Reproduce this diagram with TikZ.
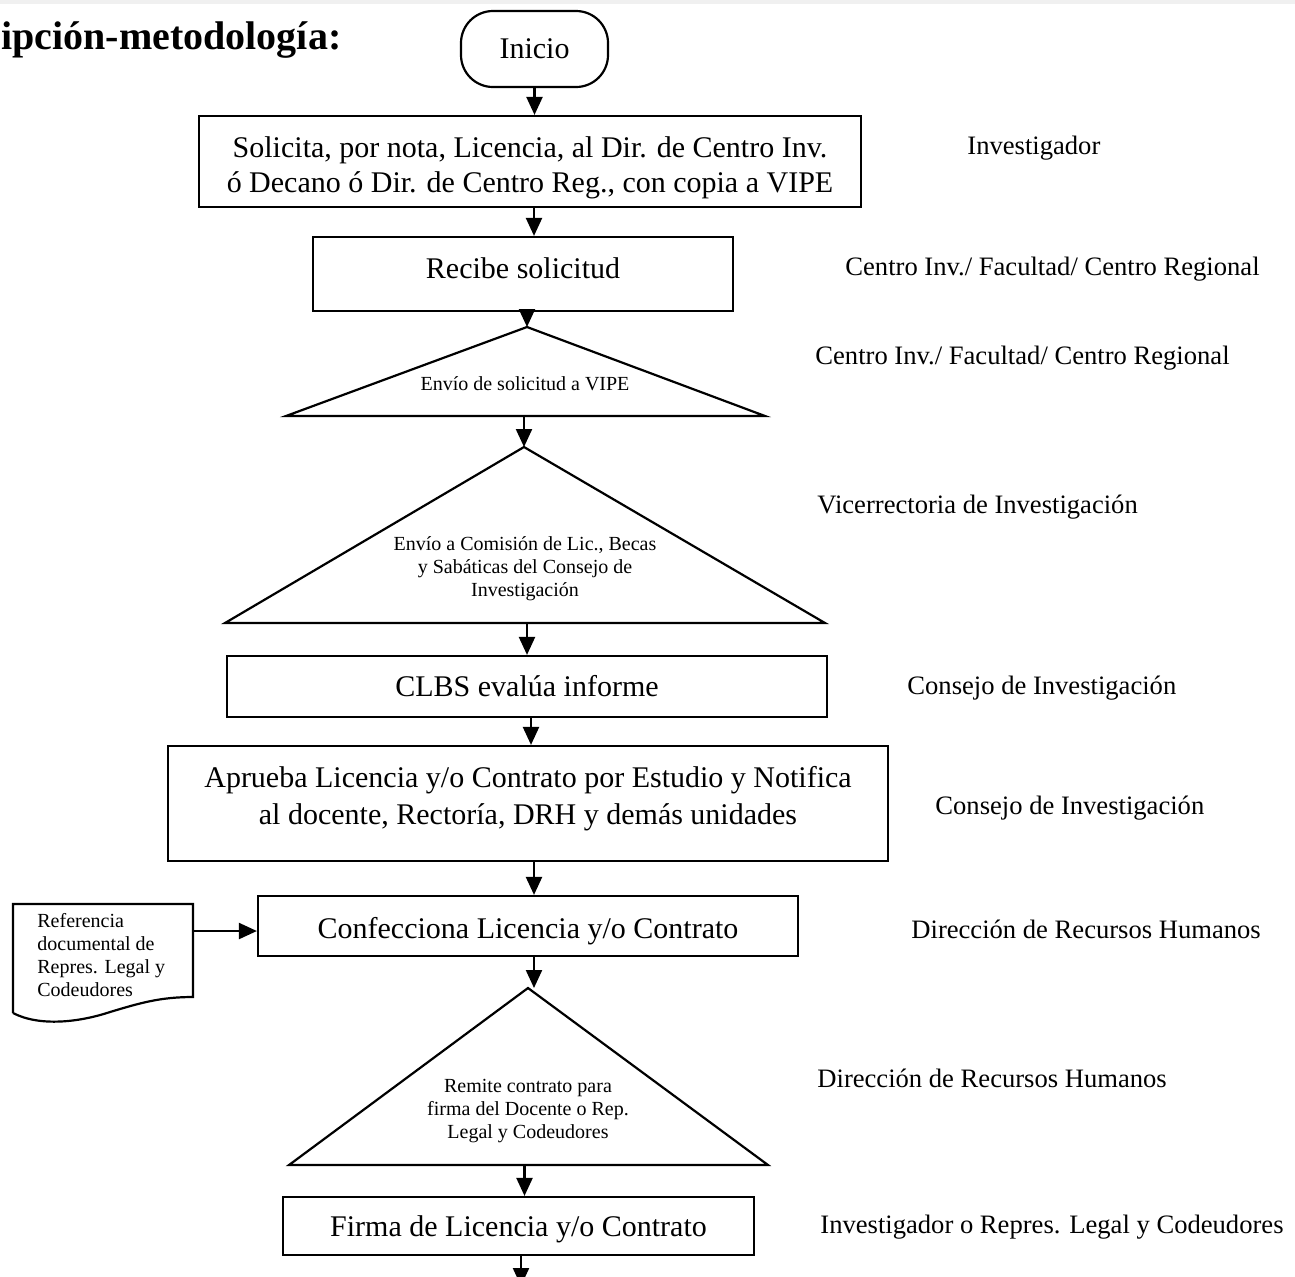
\documentclass[tikz,border=0pt]{standalone}
\usepackage{fontspec}
\setmainfont{Liberation Serif}
\usetikzlibrary{arrows.meta}
\begin{document}
\begin{tikzpicture}[x=0.5pt,y=-0.5pt,
  box/.style={draw, line width=1.1pt, inner sep=0pt, align=center, font=\fontsize{15}{17.5}\selectfont},
  arr/.style={line width=1.1pt, -{Triangle[length=9pt,width=8pt]}},
  tri/.style={draw, line width=1.1pt, line join=miter},
  small/.style={font=\fontsize{10}{11.5}\selectfont, align=center, inner sep=0pt},
  role/.style={font=\fontsize{13.3}{16}\selectfont, anchor=west, inner sep=0pt}]
\useasboundingbox (0,0) rectangle (1295,1276);
\fill[gray!12] (0,0) rectangle (1295,4);

% title
\node[anchor=west, inner sep=0pt, font=\fontsize{20}{24}\selectfont\bfseries] (title) at (1,40) {ipción-metodología:};

% start
\node[box, rounded corners=16pt, minimum width=73.5pt, minimum height=38pt] (ini) at (534.5,49) {Inicio};

% boxes
\node[box, minimum width=331pt, minimum height=45.5pt] (b1) at (530,161.5)
  {\raisebox{-3pt}[\height][\depth]{\shortstack{Solicita, por nota, Licencia, al Dir. de Centro Inv.\\[1pt]ó Decano ó Dir. de Centro Reg., con copia a VIPE}}};
\node[box, minimum width=210pt, minimum height=37pt] (b2) at (523,274) {\raisebox{3pt}[\height][\depth]{Recibe solicitud}};

% triangle 1
\coordinate (t1a) at (527,327);
\coordinate (t1l) at (286,416);
\coordinate (t1r) at (765,416);
\draw[tri] (t1a) -- (t1r) -- (t1l) -- cycle;
\node[small] (t1) at (525,384) {Envío de solicitud a VIPE};

% triangle 2
\coordinate (t2a) at (524,447);
\coordinate (t2l) at (225,623);
\coordinate (t2r) at (825,623);
\draw[tri] (t2a) -- (t2r) -- (t2l) -- cycle;
\node[small] (t2) at (525,569) {Envío a Comisión de Lic., Becas\\y Sabáticas del Consejo de\\Investigación};

\node[box, minimum width=300pt, minimum height=30.5pt] (b3) at (527,686.5) {CLBS evalúa informe};
\node[box, minimum width=360pt, minimum height=57.5pt, font=\fontsize{15}{18}\selectfont] (b4) at (528,803.5)
  {\raisebox{2.5pt}[\height][\depth]{\shortstack{Aprueba Licencia y/o Contrato por Estudio y Notifica\\[2pt]al docente, Rectoría, DRH y demás unidades}}};
\node[box, minimum width=270pt, minimum height=30pt] (b5) at (528,926) {\raisebox{-2.5pt}[\height][\depth]{Confecciona Licencia y/o Contrato}};

% document shape
\draw[line width=1.1pt, line join=miter] (13,1013) -- (13,904) -- (193,904) -- (193,997)
  .. controls (160,997) and (140,1003) .. (110,1012)
  .. controls (80,1022) and (40,1027) .. (13,1013);
\node[anchor=west, align=left, inner sep=0pt, font=\fontsize{10}{11.5}\selectfont] (doc) at (37,955.5)
  {Referencia\\documental de\\Repres. Legal y\\Codeudores};
\coordinate (d1) at (193,931);

% triangle 3
\coordinate (t3a) at (528,988);
\coordinate (t3l) at (289,1165);
\coordinate (t3r) at (768,1165);
\draw[tri] (t3a) -- (t3r) -- (t3l) -- cycle;
\node[small] (t3) at (528,1111) {Remite contrato para\\firma del Docente o Rep.\\Legal y Codeudores};

\node[box, minimum width=235.5pt, minimum height=29pt] (b6) at (518.5,1226) {\raisebox{-1.5pt}[\height][\depth]{Firma de Licencia y/o Contrato}};
\coordinate (endc) at (521,1286);

% connectors
\draw[arr] (ini.south) -- (ini.south |- b1.north);
\draw[arr] ([xshift=2pt]b1.south) -- ([xshift=2pt]b1.south |- b2.north);
\draw[arr] (t1a |- b2.south) -- (t1a);
\draw[arr] (t2a |- t1l) -- (t2a);
\draw[arr] (b3.north |- t2l) -- (b3.north);
\draw[arr] ([xshift=2pt]b3.south) -- ([xshift=2pt]b3.south |- b4.north);
\draw[arr] ([xshift=3pt]b4.south) -- ([xshift=3pt]b4.south |- b5.north);
\draw[arr] (d1) -- (d1 -| b5.west);
\draw[arr] ([xshift=3pt]b5.south) -- ([xshift=3pt]b5.south |- t3a);
\draw[arr] ([xshift=3pt]b6.north |- t3l) -- ([xshift=3pt]b6.north);
\draw[arr] (endc |- b6.south) -- (endc);

% roles
\node[role] (r1) at (967,148) {Investigador};
\node[role] (r2) at (845,269) {Centro Inv./ Facultad/ Centro Regional};
\node[role] (r3) at (815,358) {Centro Inv./ Facultad/ Centro Regional};
\node[role] (r4) at (817,507) {Vicerrectoria de Investigación};
\node[role] (r5) at (907,688) {Consejo de Investigación};
\node[role] (r6) at (935,808) {Consejo de Investigación};
\node[role] (r7) at (911,929) {Dirección de Recursos Humanos};
\node[role] (r8) at (817,1078) {Dirección de Recursos Humanos};
\node[role] (r9) at (820,1227) {Investigador o Repres. Legal y Codeudores};
\end{tikzpicture}
\end{document}
